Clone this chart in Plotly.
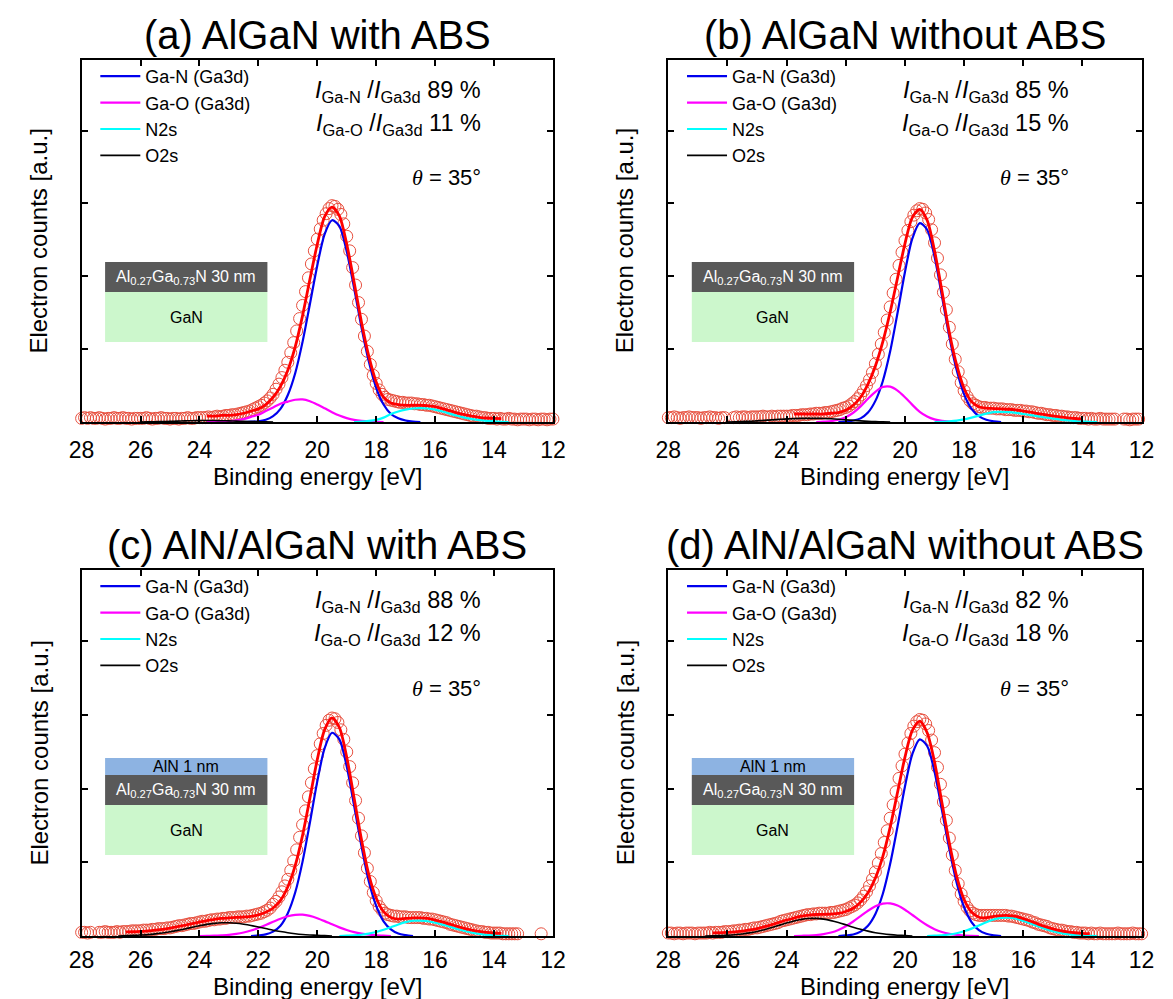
import plotly.graph_objects as go

# ---------------- data ----------------
STEP_DATA = 0.1
STEP_FIT = 0.25
E_DATA = [round(28.0 - STEP_DATA * i, 1) for i in range(161)]
X_TICKS = [28, 26, 24, 22, 20, 18, 16, 14, 12]

PANEL_TITLES = ["(a) AlGaN with ABS", "(b) AlGaN without ABS",
                "(c) AlN/AlGaN with ABS", "(d) AlN/AlGaN without ABS"]
GAN_RATIO = [89, 85, 88, 82]
GAO_RATIO = [11, 15, 12, 18]
LEGEND_NAMES = ["Ga-N (Ga3d)", "Ga-O (Ga3d)", "N2s", "O2s"]

# measured spectra (circles), 28.0 -> 12.0 eV in 0.1 eV steps
A_DATA = [
    0.05, 0.06, 0.05, 0.06, 0.05, 0.05, 0.06, 0.05, 0.04, 0.05,
    0.05, 0.06, 0.05, 0.05, 0.06, 0.05, 0.05, 0.04, 0.05, 0.05,
    0.05, 0.05, 0.06, 0.05, 0.04, 0.05, 0.05, 0.06, 0.05, 0.05,
    0.04, 0.05, 0.05, 0.04, 0.05, 0.05, 0.06, 0.05, 0.05, 0.06,
    0.06, 0.06, 0.06, 0.07, 0.06, 0.07, 0.08, 0.07, 0.08, 0.09,
    0.09, 0.10, 0.10, 0.11, 0.12, 0.13, 0.14, 0.15, 0.17, 0.19,
    0.21, 0.23, 0.26, 0.29, 0.33, 0.38, 0.45, 0.52, 0.61, 0.71,
    0.82, 0.95, 1.09, 1.25, 1.42, 1.60, 1.79, 1.98, 2.17, 2.35,
    2.51, 2.65, 2.77, 2.86, 2.93, 2.97, 2.96, 2.92, 2.85, 2.72,
    2.55, 2.35, 2.12, 1.88, 1.64, 1.41, 1.18, 0.97, 0.79, 0.64,
    0.53, 0.44, 0.38, 0.34, 0.31, 0.30, 0.29, 0.28, 0.27, 0.27,
    0.26, 0.26, 0.26, 0.25, 0.25, 0.24, 0.24, 0.23, 0.23, 0.22,
    0.21, 0.20, 0.19, 0.18, 0.17, 0.16, 0.15, 0.14, 0.13, 0.12,
    0.11, 0.10, 0.09, 0.08, 0.08, 0.07, 0.06, 0.06, 0.05, 0.05,
    0.05, 0.04, 0.05, 0.04, 0.04, 0.05, 0.04, 0.04, 0.03, 0.04,
    0.04, 0.04, 0.03, 0.04, 0.04, 0.03, 0.04, 0.04, 0.03, 0.04,
    0.04]
B_DATA = [
    0.06, 0.06, 0.07, 0.06, 0.05, 0.06, 0.06, 0.07, 0.06, 0.06,
    0.06, 0.05, 0.06, 0.06, 0.07, 0.06, 0.06, 0.05, 0.06, 0.06,
    None, None, 0.06, 0.07, 0.06, 0.07, 0.07, 0.06, 0.07, 0.07,
    0.07, 0.07, 0.08, 0.07, 0.07, 0.08, 0.07, 0.08, 0.08, 0.08,
    0.08, 0.08, 0.09, 0.09, 0.09, 0.10, 0.10, 0.10, 0.11, 0.11,
    0.12, 0.12, 0.12, 0.13, 0.13, 0.14, 0.15, 0.16, 0.17, 0.19,
    0.20, 0.22, 0.25, 0.28, 0.32, 0.37, 0.43, 0.50, 0.58, 0.68,
    0.80, 0.93, 1.07, 1.23, 1.40, 1.58, 1.77, 1.96, 2.15, 2.33,
    2.49, 2.63, 2.75, 2.84, 2.90, 2.93, 2.92, 2.87, 2.78, 2.64,
    2.46, 2.25, 2.02, 1.78, 1.54, 1.30, 1.07, 0.86, 0.69, 0.54,
    0.43, 0.35, 0.29, 0.25, 0.23, 0.21, 0.20, 0.20, 0.19, 0.19,
    0.19, 0.18, 0.18, 0.18, 0.17, 0.17, 0.17, 0.16, 0.16, 0.16,
    0.15, 0.15, 0.14, 0.14, 0.13, 0.12, 0.12, 0.11, 0.10, 0.10,
    0.09, 0.09, 0.08, 0.08, 0.07, 0.07, 0.06, 0.06, 0.06, 0.05,
    0.05, 0.05, 0.04, 0.05, 0.04, 0.04, 0.05, 0.04, 0.04, 0.04,
    0.04, 0.04, None, None, 0.04, 0.04, 0.03, 0.04, 0.04, 0.04,
    None]
C_DATA = [
    0.05, 0.05, 0.04, 0.05, None, None, 0.05, 0.05, 0.06, 0.05,
    0.05, 0.05, 0.06, 0.05, 0.06, 0.06, 0.06, 0.07, 0.07, 0.07,
    0.07, 0.08, 0.08, 0.08, 0.09, 0.09, 0.10, 0.10, 0.10, 0.11,
    0.11, 0.12, 0.13, 0.14, 0.14, 0.15, 0.16, 0.17, 0.17, 0.18,
    0.19, 0.20, 0.20, 0.21, 0.22, 0.22, 0.23, 0.23, 0.24, 0.24,
    0.25, 0.25, 0.25, 0.26, 0.26, 0.26, 0.27, 0.27, 0.28, 0.29,
    0.30, 0.31, 0.33, 0.35, 0.38, 0.43, 0.47, 0.53, 0.60, 0.68,
    0.77, 0.89, 1.02, 1.17, 1.34, 1.51, 1.70, 1.89, 2.08, 2.27,
    2.45, 2.61, 2.75, 2.86, 2.93, 2.96, 2.95, 2.90, 2.80, 2.67,
    2.50, 2.30, 2.08, 1.84, 1.60, 1.36, 1.13, 0.92, 0.74, 0.59,
    0.48, 0.40, 0.35, 0.31, 0.29, 0.28, 0.27, 0.27, 0.26, 0.26,
    0.26, 0.25, 0.25, 0.25, 0.25, 0.25, 0.24, 0.24, 0.23, 0.23,
    0.22, 0.21, 0.20, 0.19, 0.18, 0.16, 0.15, 0.14, 0.13, 0.12,
    0.11, 0.10, 0.09, 0.08, 0.07, 0.06, 0.06, 0.05, 0.05, 0.04,
    0.04, 0.04, 0.04, 0.03, 0.03, 0.03, 0.03, 0.03, 0.03, None,
    None, None, None, None, None, None, 0.03, None, None, None,
    None]
D_DATA = [
    0.04, 0.04, 0.03, 0.04, 0.04, 0.03, 0.04, 0.04, 0.04, 0.03,
    0.04, 0.04, 0.04, 0.04, 0.05, 0.04, 0.05, 0.05, 0.05, 0.06,
    0.06, 0.06, 0.07, 0.07, 0.08, 0.08, 0.09, 0.09, 0.10, 0.11,
    0.11, 0.12, 0.13, 0.14, 0.15, 0.16, 0.17, 0.18, 0.20, 0.21,
    0.22, 0.23, 0.24, 0.25, 0.26, 0.27, 0.28, 0.29, 0.29, 0.30,
    0.30, 0.31, 0.31, 0.31, 0.31, 0.32, 0.32, 0.33, 0.34, 0.35,
    0.36, 0.38, 0.40, 0.42, 0.45, 0.49, 0.54, 0.60, 0.68, 0.77,
    0.87, 0.99, 1.12, 1.27, 1.43, 1.60, 1.78, 1.96, 2.14, 2.31,
    2.47, 2.62, 2.75, 2.85, 2.91, 2.94, 2.93, 2.88, 2.79, 2.66,
    2.49, 2.29, 2.06, 1.82, 1.57, 1.33, 1.10, 0.89, 0.71, 0.57,
    0.47, 0.39, 0.34, 0.31, 0.29, 0.28, 0.28, 0.28, 0.28, 0.28,
    0.28, 0.28, 0.28, 0.28, 0.28, 0.27, 0.27, 0.26, 0.25, 0.24,
    0.23, 0.22, 0.21, 0.19, 0.18, 0.16, 0.15, 0.14, 0.13, 0.11,
    0.10, 0.09, 0.08, 0.08, 0.07, 0.06, 0.06, 0.05, 0.05, 0.04,
    0.04, 0.04, 0.03, 0.04, 0.03, 0.03, 0.04, 0.03, 0.03, 0.03,
    0.03, 0.03, 0.04, 0.03, 0.03, 0.03, 0.03, 0.04, 0.03, 0.03,
    0.03]

# fitted curves, 0.25 eV steps, each list starts at the given energy
A_FIT_START, A_FIT = 23.75, [
    0.08, 0.08, 0.09, 0.09, 0.10, 0.12, 0.15, 0.18, 0.24, 0.34,
    0.49, 0.71, 1.03, 1.46, 1.96, 2.44, 2.82, 2.95, 2.83, 2.44,
    1.92, 1.37, 0.90, 0.55, 0.34, 0.26, 0.24, 0.23, 0.23, 0.23,
    0.225, 0.21, 0.185, 0.155, 0.125, 0.10, 0.08, 0.065, 0.055, 0.05,
    0.045]
A_GAN_START, A_GAN = 22.5, [
    0.0, 0.005, 0.01, 0.03, 0.08, 0.18, 0.37, 0.67, 1.10, 1.62,
    2.15, 2.58, 2.77, 2.69, 2.34, 1.84, 1.30, 0.83, 0.47, 0.24,
    0.11, 0.05, 0.02, 0.005, 0.0]
A_GAO_START, A_GAO = 23.75, [
    0.001, 0.003, 0.006, 0.013, 0.024, 0.04, 0.07, 0.10, 0.15, 0.20,
    0.25, 0.28, 0.305, 0.31, 0.285, 0.24, 0.188, 0.134, 0.088, 0.053,
    0.029, 0.015, 0.006, 0.002, 0.0]
A_N2S_START, A_N2S = 18.75, [
    0.0, 0.005, 0.015, 0.03, 0.06, 0.11, 0.145, 0.17, 0.185, 0.19,
    0.185, 0.17, 0.145, 0.115, 0.085, 0.06, 0.04, 0.025, 0.015, 0.008,
    0.003, 0.0]
A_O2S_START, A_O2S = 26.0, [
    0.0, 0.002, 0.004, 0.006, 0.009, 0.012, 0.015, 0.018, 0.02, 0.02,
    0.02, 0.018, 0.015, 0.012, 0.009, 0.006, 0.004, 0.002, 0.0]

B_FIT_START, B_FIT = 23.75, [
    0.11, 0.11, 0.11, 0.11, 0.11, 0.12, 0.13, 0.16, 0.23, 0.34,
    0.52, 0.77, 1.10, 1.51, 1.98, 2.45, 2.81, 2.92, 2.77, 2.35,
    1.80, 1.23, 0.78, 0.46, 0.28, 0.21, 0.19, 0.185, 0.18, 0.175,
    0.165, 0.15, 0.135, 0.115, 0.10, 0.085, 0.07, 0.057, 0.048, 0.042]
B_GAN_START, B_GAN = 22.25, [
    0.0, 0.005, 0.02, 0.05, 0.13, 0.29, 0.56, 0.97, 1.50, 2.06,
    2.52, 2.73, 2.64, 2.27, 1.73, 1.17, 0.71, 0.38, 0.18, 0.08,
    0.03, 0.01, 0.0]
B_GAO_START, B_GAO = 23.0, [
    0.0, 0.005, 0.012, 0.03, 0.066, 0.127, 0.215, 0.32, 0.415, 0.48,
    0.485, 0.43, 0.34, 0.235, 0.14, 0.076, 0.036, 0.015, 0.005, 0.0]
B_N2S_START, B_N2S = 19.0, [
    0.0, 0.003, 0.01, 0.02, 0.035, 0.06, 0.088, 0.115, 0.135, 0.14,
    0.135, 0.125, 0.11, 0.095, 0.078, 0.062, 0.047, 0.033, 0.022, 0.013,
    0.007, 0.003, 0.0]
B_O2S_START, B_O2S = 26.0, [
    0.0, 0.003, 0.006, 0.01, 0.015, 0.022, 0.029, 0.036, 0.043, 0.047,
    0.05, 0.05, 0.05, 0.048, 0.044, 0.038, 0.03, 0.022, 0.015, 0.009,
    0.005, 0.002, 0.0]

C_FIT_START, C_FIT = 26.5, [
    0.055, 0.058, 0.063, 0.069, 0.079, 0.091, 0.107, 0.126, 0.146, 0.168,
    0.189, 0.21, 0.225, 0.238, 0.245, 0.252, 0.258, 0.267, 0.288, 0.322,
    0.38, 0.483, 0.669, 0.955, 1.366, 1.873, 2.396, 2.802, 2.962, 2.831,
    2.428, 1.873, 1.311, 0.832, 0.515, 0.33, 0.25, 0.23, 0.239, 0.246,
    0.246, 0.238, 0.217, 0.192, 0.161, 0.131, 0.103, 0.08, 0.062, 0.05,
    0.041, 0.036]
C_GAN_START, C_GAN = 22.25, [
    0.0, 0.008, 0.022, 0.06, 0.14, 0.31, 0.59, 1.01, 1.54, 2.10,
    2.55, 2.76, 2.67, 2.30, 1.77, 1.22, 0.74, 0.41, 0.20, 0.09,
    0.033, 0.012, 0.0]
C_GAO_START, C_GAO = 24.0, [
    0.0, 0.002, 0.004, 0.009, 0.016, 0.029, 0.048, 0.074, 0.109, 0.15,
    0.193, 0.235, 0.268, 0.287, 0.289, 0.273, 0.242, 0.202, 0.158, 0.117,
    0.081, 0.052, 0.032, 0.018, 0.01, 0.005, 0.0]
C_N2S_START, C_N2S = 19.25, [
    0.0, 0.004, 0.008, 0.017, 0.032, 0.054, 0.084, 0.12, 0.157, 0.188,
    0.207, 0.208, 0.2, 0.18, 0.155, 0.125, 0.095, 0.068, 0.045, 0.028,
    0.016, 0.008, 0.003, 0.0]
C_O2S_START, C_O2S = 26.75, [
    0.0, 0.005, 0.008, 0.013, 0.019, 0.029, 0.041, 0.057, 0.076, 0.096,
    0.118, 0.139, 0.158, 0.171, 0.179, 0.179, 0.173, 0.16, 0.143, 0.122,
    0.101, 0.079, 0.06, 0.044, 0.031, 0.021, 0.014, 0.009, 0.005, 0.0]

D_FIT_START, D_FIT = 26.5, [
    0.043, 0.046, 0.05, 0.057, 0.067, 0.082, 0.101, 0.126, 0.154, 0.186,
    0.217, 0.244, 0.269, 0.284, 0.292, 0.295, 0.297, 0.306, 0.333, 0.377,
    0.46, 0.588, 0.787, 1.077, 1.479, 1.951, 2.429, 2.791, 2.917, 2.76,
    2.362, 1.808, 1.263, 0.806, 0.494, 0.325, 0.255, 0.248, 0.265, 0.276,
    0.278, 0.265, 0.235, 0.2, 0.162, 0.127, 0.097, 0.073, 0.056, 0.044,
    0.037, 0.033]
D_GAN_START, D_GAN = 22.25, [
    0.0, 0.008, 0.02, 0.06, 0.14, 0.30, 0.57, 0.98, 1.49, 2.03,
    2.47, 2.67, 2.58, 2.23, 1.71, 1.18, 0.72, 0.39, 0.19, 0.08,
    0.03, 0.01, 0.0]
D_GAO_START, D_GAO = 23.75, [
    0.0, 0.003, 0.006, 0.013, 0.026, 0.048, 0.083, 0.133, 0.197, 0.27,
    0.343, 0.403, 0.439, 0.442, 0.413, 0.356, 0.285, 0.211, 0.145, 0.092,
    0.054, 0.029, 0.015, 0.007, 0.003, 0.0]
D_N2S_START, D_N2S = 19.25, [
    0.0, 0.005, 0.01, 0.02, 0.038, 0.064, 0.1, 0.143, 0.187, 0.224,
    0.246, 0.248, 0.235, 0.205, 0.17, 0.132, 0.097, 0.067, 0.043, 0.026,
    0.014, 0.007, 0.003, 0.0]
D_O2S_START, D_O2S = 26.75, [
    0.0, 0.003, 0.006, 0.01, 0.017, 0.027, 0.042, 0.061, 0.086, 0.114,
    0.146, 0.177, 0.204, 0.226, 0.238, 0.239, 0.229, 0.209, 0.183, 0.152,
    0.12, 0.091, 0.066, 0.045, 0.03, 0.019, 0.011, 0.006, 0.0]

for arr in (A_DATA, B_DATA, C_DATA, D_DATA):
    assert len(arr) == len(E_DATA), len(arr)

PANELS = [
    dict(data=A_DATA, fit=(A_FIT_START, A_FIT), comps=[(A_GAN_START, A_GAN), (A_GAO_START, A_GAO), (A_N2S_START, A_N2S), (A_O2S_START, A_O2S)], aln=False),
    dict(data=B_DATA, fit=(B_FIT_START, B_FIT), comps=[(B_GAN_START, B_GAN), (B_GAO_START, B_GAO), (B_N2S_START, B_N2S), (B_O2S_START, B_O2S)], aln=False),
    dict(data=C_DATA, fit=(C_FIT_START, C_FIT), comps=[(C_GAN_START, C_GAN), (C_GAO_START, C_GAO), (C_N2S_START, C_N2S), (C_O2S_START, C_O2S)], aln=True),
    dict(data=D_DATA, fit=(D_FIT_START, D_FIT), comps=[(D_GAN_START, D_GAN), (D_GAO_START, D_GAO), (D_N2S_START, D_N2S), (D_O2S_START, D_O2S)], aln=True),
]

# ---------------- layout / style ----------------
W, H = 1173, 999
FONT = "Liberation Sans, Arial, sans-serif"
COMP_COLORS = ["#0000ee", "#ff00ff", "#00ffff", "#000000"]
COMP_WIDTHS = [2.2, 2.2, 2.2, 1.6]
# plot frames in pixels: left, right, top, bottom
FRAMES = [(62, 544, 52, 414), (662, 1146, 52, 414), (62, 544, 562, 928), (662, 1146, 562, 928)]
TICK_STANDOFF = [6, 6, 2, 2]
XTITLE_OFFSET = [54, 54, 50, 50]


def px(x):
    return x / W


def py(y):
    return 1 - y / H


def egrid(start, n):
    return [round(start - STEP_FIT * i, 2) for i in range(n)]


fig = go.Figure()
annotations = []
shapes = []
layout_extra = {}

for k, (panel, frame) in enumerate(zip(PANELS, FRAMES)):
    idx = "" if k == 0 else str(k + 1)
    xa, ya = "x" + idx, "y" + idx
    leg = "legend" + idx
    L, R, T, B = frame

    fig.add_trace(go.Scatter(
        x=E_DATA, y=panel["data"], mode="markers", xaxis=xa, yaxis=ya,
        marker=dict(symbol="circle-open", size=12, color="#e8503f", line=dict(width=1)),
        cliponaxis=False, showlegend=False, hoverinfo="skip"))
    for j, (start, vals) in enumerate(panel["comps"]):
        fig.add_trace(go.Scatter(
            x=egrid(start, len(vals)), y=vals, mode="lines", xaxis=xa, yaxis=ya,
            line=dict(color=COMP_COLORS[j], width=COMP_WIDTHS[j], shape="spline", smoothing=0.8),
            name=LEGEND_NAMES[j], legend=leg, showlegend=True))
    fstart, fvals = panel["fit"]
    fig.add_trace(go.Scatter(
        x=egrid(fstart, len(fvals)), y=fvals, mode="lines", xaxis=xa, yaxis=ya,
        line=dict(color="#ff0000", width=2.8, shape="spline", smoothing=0.8),
        showlegend=False))

    axis_common = dict(showline=True, linewidth=2, linecolor="black", mirror="ticks",
                       ticks="inside", ticklen=6, tickwidth=1.5, tickcolor="black",
                       showgrid=False, zeroline=False, fixedrange=True)
    layout_extra["xaxis" + idx] = dict(
        axis_common, domain=[px(L), px(R)], anchor=ya, range=[28, 12],
        tickvals=X_TICKS, ticktext=[str(t) for t in X_TICKS],
        tickfont=dict(family=FONT, size=23, color="black"), ticklabelstandoff=TICK_STANDOFF[k])
    layout_extra["yaxis" + idx] = dict(
        axis_common, domain=[py(B), py(T)], anchor=xa, range=[0, 4.97],
        tickvals=[1, 2, 3, 4], showticklabels=False)
    layout_extra[leg] = dict(
        x=px(L + 14), y=py(T - 2), xanchor="left", yanchor="top",
        bgcolor="rgba(0,0,0,0)", font=dict(family=FONT, size=18, color="black"),
        itemwidth=40, tracegroupgap=0)

    cx = (L + R) / 2
    annotations.append(dict(text=PANEL_TITLES[k], x=px(cx), y=py(T - 25), xref="paper", yref="paper",
                            showarrow=False, xanchor="center", yanchor="middle",
                            font=dict(family=FONT, size=40, color="black")))
    annotations.append(dict(text="Electron counts [a.u.]", x=px(L - 44), y=py((T + B) / 2),
                            xref="paper", yref="paper", showarrow=False, textangle=-90,
                            xanchor="center", yanchor="middle",
                            font=dict(family=FONT, size=24, color="black")))
    annotations.append(dict(text="Binding energy [eV]", x=px(cx), y=py(B + XTITLE_OFFSET[k]),
                            xref="paper", yref="paper", showarrow=False,
                            xanchor="center", yanchor="middle",
                            font=dict(family=FONT, size=24, color="black")))
    rx = R - 72
    annotations.append(dict(text="<i>I</i><sub>Ga-N</sub> /<i>I</i><sub>Ga3d</sub> %d %%" % GAN_RATIO[k],
                            x=px(rx), y=py(T + 31), xref="paper", yref="paper", showarrow=False,
                            xanchor="right", yanchor="middle",
                            font=dict(family=FONT, size=23.5, color="black")))
    annotations.append(dict(text="<i>I</i><sub>Ga-O</sub> /<i>I</i><sub>Ga3d</sub> %d %%" % GAO_RATIO[k],
                            x=px(rx), y=py(T + 64), xref="paper", yref="paper", showarrow=False,
                            xanchor="right", yanchor="middle",
                            font=dict(family=FONT, size=23.5, color="black")))
    annotations.append(dict(text='<span style="font-family:Liberation Serif"><i>θ</i></span> = 35°',
                            x=px(rx), y=py(T + 118), xref="paper", yref="paper", showarrow=False,
                            xanchor="right", yanchor="middle",
                            font=dict(family=FONT, size=22, color="black")))

    # layer-stack inset
    il, ir = L + 24, L + 190
    if panel["aln"]:
        layers = [(188, 205, "#8db3e2", "AlN 1 nm", "black"),
                  (205, 235, "#595959", "Al<sub>0.27</sub>Ga<sub>0.73</sub>N 30 nm", "white"),
                  (235, 285, "#ccf7cc", "GaN", "black")]
    else:
        layers = [(202, 232, "#595959", "Al<sub>0.27</sub>Ga<sub>0.73</sub>N 30 nm", "white"),
                  (232, 282, "#ccf7cc", "GaN", "black")]
    for (t0, t1, col, txt, tcol) in layers:
        shapes.append(dict(type="rect", xref="paper", yref="paper",
                           x0=px(il), x1=px(ir), y0=py(T + t1), y1=py(T + t0),
                           fillcolor=col, line=dict(width=0), layer="below"))
        annotations.append(dict(text=txt, x=px((il + ir) / 2), y=py(T + (t0 + t1) / 2),
                                xref="paper", yref="paper", showarrow=False,
                                xanchor="center", yanchor="middle",
                                font=dict(family=FONT, size=16, color=tcol)))

fig.update_layout(
    width=W, height=H, margin=dict(l=0, r=0, t=0, b=0),
    paper_bgcolor="white", plot_bgcolor="rgba(0,0,0,0)",
    annotations=annotations, shapes=shapes, **layout_extra)

fig.write_html("out.html")
